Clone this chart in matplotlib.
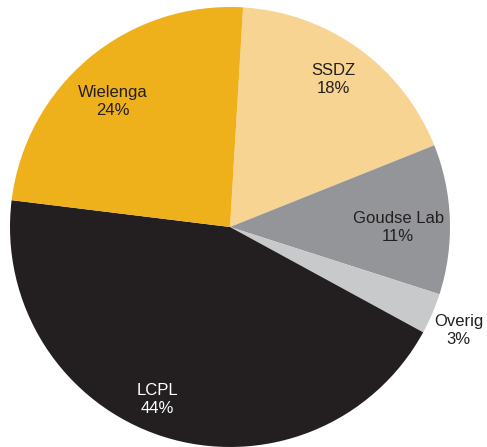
import matplotlib
matplotlib.use("Agg")
import matplotlib.pyplot as plt
import numpy as np

plt.rcParams['font.family'] = ['Liberation Sans', 'DejaVu Sans']

# data, clockwise from the top
labels = ['SSDZ', 'Goudse Lab', 'Overig', 'LCPL', 'Wielenga']
shares = [18, 11, 3, 44, 24]
colors = ['#F8D492', '#939598', '#C8C9CB', '#231F20', '#EEB01B']
txt_colors = ['#231F20', '#231F20', '#231F20', 'white', '#231F20']

# label placement (radius as fraction, angle tweak in degrees)
lab_r = [0.82, 0.765, 1.14, 0.85, 0.78]
lab_da = [0.7, -2.2, -1.1, -5.1, 3.1]

fig = plt.figure(figsize=(4.87, 4.47), dpi=100)
ax = fig.add_axes([10 / 487, 0 / 447, 440 / 487, 440 / 447])

wedges, _ = ax.pie(shares, colors=colors, startangle=86.6, counterclock=False,
                   radius=1.0, wedgeprops=dict(linewidth=0))

for w, lab, s, c, r, da in zip(wedges, labels, shares, txt_colors, lab_r, lab_da):
    mid = np.deg2rad((w.theta1 + w.theta2) / 2 + da)
    ax.text(r * np.cos(mid), r * np.sin(mid), f'{lab}\n{s}%', ha='center', va='center',
            fontsize=12, color=c, linespacing=1.25)

ax.set_xlim(-1, 1)
ax.set_ylim(-1, 1)
ax.set_aspect('auto')
ax.axis('off')

fig.savefig('out.png', dpi=100)
